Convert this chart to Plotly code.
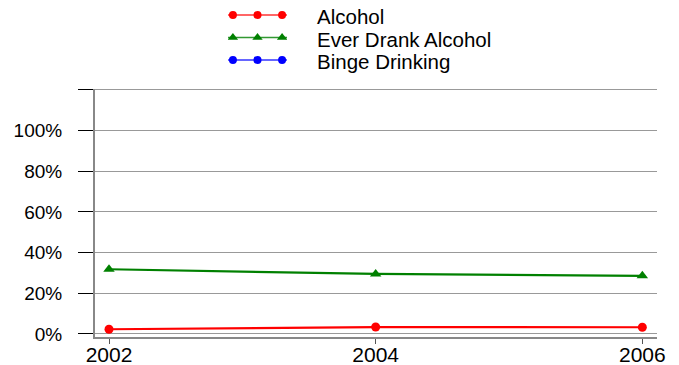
import plotly.graph_objects as go

# Survey years and the share of respondents (%) for each measure
years = [2002, 2004, 2006]
alcohol = [2.3, 3.4, 3.3]
ever_drank = [31.8, 29.5, 28.6]
binge = [None, None, None]

series_names = ["Alcohol", "Ever Drank Alcohol", "Binge Drinking"]
series_values = [alcohol, ever_drank, binge]
series_colors = ["#ff0000", "#008000", "#0000ff"]
series_symbols = ["circle", "triangle-up", "circle"]

y_ticks = [0, 20, 40, 60, 80, 100, 120]
y_tick_text = ["0%", "20%", "40%", "60%", "80%", "100%", ""]
x_ticks = [2002, 2004, 2006]

FONT = "Liberation Sans, Arial, sans-serif"

W, H = 679, 365
M_L, M_R, M_T, M_B = 95, 22, 5, 27.5
PLOT_H = H - M_T - M_B


def paper_y(px):
    """Convert a pixel row (from the top of the page) to paper coordinates."""
    return (H - M_B - px) / PLOT_H


fig = go.Figure()

for name, vals, color, sym in zip(series_names, series_values, series_colors, series_symbols):
    fig.add_trace(go.Scatter(
        x=years, y=vals, name=name, mode="lines+markers",
        line=dict(color=color, width=2.2),
        marker=dict(color=color, symbol=sym, size=10 if sym != "circle" else 9),
        showlegend=False, xaxis="x", yaxis="y",
    ))

# Legend keys: a short line with three sample markers per series
for i, (name, color, sym) in enumerate(zip(series_names, series_colors, series_symbols)):
    fig.add_trace(go.Scatter(
        x=[-0.2, 2.2], y=[-i, -i], mode="lines",
        line=dict(color=color, width=1.5), opacity=0.8,
        showlegend=False, hoverinfo="skip", xaxis="x2", yaxis="y2",
    ))
    fig.add_trace(go.Scatter(
        x=[0, 1, 2], y=[-i, -i, -i], mode="markers",
        marker=dict(color=color, symbol=sym, size=9 if sym != "circle" else 8),
        showlegend=False, hoverinfo="skip", xaxis="x2", yaxis="y2",
    ))
    fig.add_annotation(
        x=(315 - M_L) / (W - M_L - M_R), y=paper_y(16.5 + 22.75 * i),
        xref="paper", yref="paper", text=name, showarrow=False,
        xanchor="left", yanchor="middle", font=dict(size=20.5, color="#000", family=FONT),
    )

fig.update_layout(
    width=W, height=H,
    margin=dict(l=M_L, r=M_R, t=M_T, b=M_B),
    paper_bgcolor="white", plot_bgcolor="white",
    font=dict(family=FONT, color="#000"),
    xaxis=dict(
        range=[2001.895, 2006.11], tickvals=x_ticks, ticks="outside", ticklen=5,
        tickcolor="#555", tickwidth=1, showgrid=False, zeroline=False,
        showline=True, linecolor="#888", linewidth=2, automargin=False,
        tickfont=dict(size=21, family=FONT), ticklabelstandoff=-7, anchor="y",
    ),
    yaxis=dict(
        domain=[0, paper_y(89)], range=[-1.5, 120.5], tickvals=y_ticks, ticktext=y_tick_text,
        ticks="outside", ticklen=15, tickcolor="#000", tickwidth=1,
        showgrid=True, gridcolor="#999", gridwidth=1, zeroline=False,
        showline=True, linecolor="#888", linewidth=2, automargin=False,
        tickfont=dict(size=19, family=FONT), ticklabelstandoff=12, anchor="x",
    ),
    xaxis2=dict(domain=[(228 - M_L) / (W - M_L - M_R), (287 - M_L) / (W - M_L - M_R)],
                range=[-0.2, 2.2], visible=False, anchor="y2", automargin=False),
    yaxis2=dict(domain=[paper_y(71.5), 1.0], range=[-2.511, 0.444], visible=False,
                anchor="x2", automargin=False),
)

fig.write_html("out.html")
